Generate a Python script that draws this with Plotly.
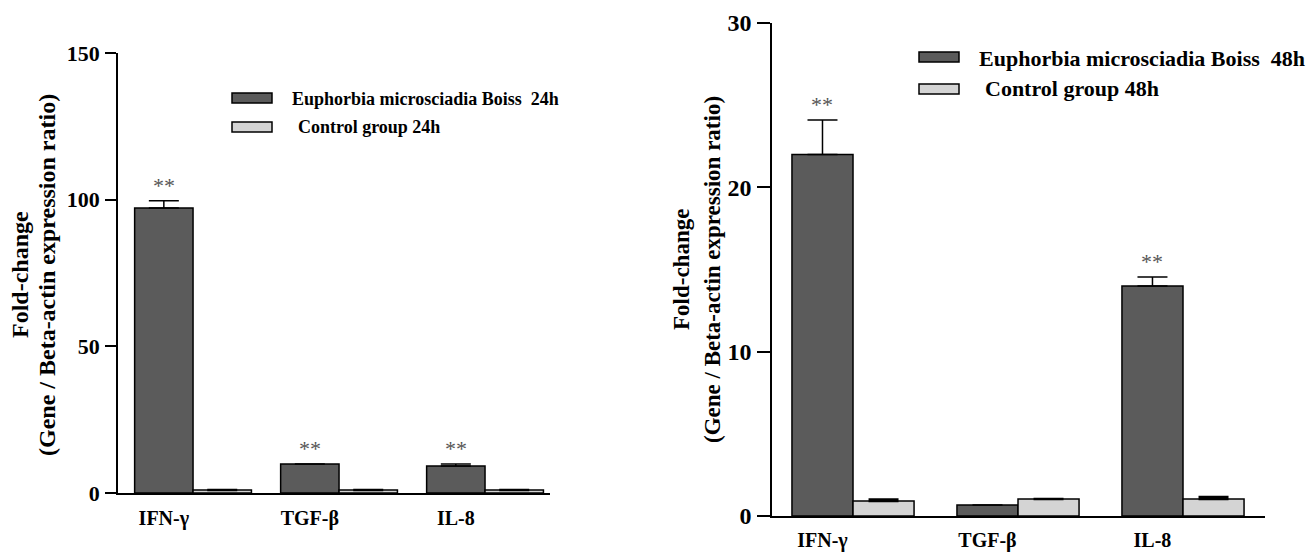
import math
import plotly.graph_objects as go

W, H = 1310, 552

# ---------------- data ----------------
genes = ["IFN-γ", "TGF-β", "IL-8"]

left_treat = [97.2, 9.9, 9.2]
left_treat_err = [2.4, 0.0, 0.7]
left_ctrl = [1.0, 1.0, 1.0]
left_ctrl_err = [0.0, 0.0, 0.0]
left_sig = ["**", "**", "**"]

right_treat = [22.0, 0.67, 14.0]
right_treat_err = [2.1, 0.0, 0.55]
right_ctrl = [0.91, 1.03, 1.03]
right_ctrl_err = [0.1, 0.0, 0.12]
right_sig = ["**", "", "**"]

left_yticks = [0, 50, 100, 150]
right_yticks = [0, 10, 20, 30]

left_legend = ["Euphorbia microsciadia Boiss  24h", "Control group 24h"]
right_legend = ["Euphorbia microsciadia Boiss  48h", "Control group 48h"]
ytitle_lines = ["Fold-change", "(Gene / Beta-actin expression ratio)"]

# ---------------- style ----------------
DARK = "#5b5b5b"
LIGHT = "#d4d4d4"
FONT = "Liberation Serif"


def px(x):
    return x / W


def py(y):
    return 1 - y / H


def nz(arr):
    return [v if v > 0 else float("nan") for v in arr]


fig = go.Figure()
xpos = list(range(len(genes)))

panels = [
    dict(xa="x", ya="y", treat=left_treat, terr=left_treat_err, ctrl=left_ctrl,
         cerr=left_ctrl_err, sig=left_sig, bw=0.4),
    dict(xa="x2", ya="y2", treat=right_treat, terr=right_treat_err, ctrl=right_ctrl,
         cerr=right_ctrl_err, sig=right_sig, bw=0.37),
]

for p in panels:
    bw = p["bw"]
    fig.add_trace(go.Bar(
        x=xpos, y=p["treat"], width=bw, offset=-bw, xaxis=p["xa"], yaxis=p["ya"],
        marker=dict(color=DARK, line=dict(color="black", width=1.5)),
        error_y=dict(type="data", symmetric=False, array=nz(p["terr"]),
                     arrayminus=[0] * 3, color="black", thickness=1.5, width=15),
        showlegend=False, hoverinfo="y"))
    fig.add_trace(go.Bar(
        x=xpos, y=p["ctrl"], width=bw, offset=0, xaxis=p["xa"], yaxis=p["ya"],
        marker=dict(color=LIGHT, line=dict(color="black", width=1.5)),
        error_y=dict(type="data", symmetric=False, array=nz(p["cerr"]),
                     arrayminus=[0] * 3, color="black", thickness=2.5, width=15),
        showlegend=False, hoverinfo="y"))
    for i, s in enumerate(p["sig"]):
        if s:
            fig.add_annotation(
                x=i - bw / 2, y=p["treat"][i] + p["terr"][i], xref=p["xa"], yref=p["ya"],
                text=s, showarrow=False, yanchor="bottom", yshift=1,
                font=dict(family=FONT, size=22, color="#555555"))

axis_common = dict(showline=True, linecolor="black", linewidth=1.5, showgrid=False,
                   zeroline=False, fixedrange=True, automargin=False)

fig.update_layout(
    width=W, height=H, margin=dict(l=0, r=0, t=0, b=0),
    paper_bgcolor="white", plot_bgcolor="white", barmode="overlay",
    xaxis=dict(domain=[px(118), px(550)], range=[-0.514, 2.445],
               tickvals=[i - 0.2 for i in xpos], ticktext=genes, ticks="",
               ticklabelstandoff=6,
               tickfont=dict(family=FONT, size=20, color="black", weight="bold"),
               anchor="y", **axis_common),
    yaxis=dict(domain=[py(493), py(53)], range=[0, 150], tickvals=left_yticks,
               ticks="outside", ticklen=11, tickwidth=1.5, tickcolor="black",
               ticklabelstandoff=1,
               tickfont=dict(family=FONT, size=22, color="black", weight="bold"),
               anchor="x", **axis_common),
    xaxis2=dict(domain=[px(772), px(1265)], range=[-0.491, 2.497],
                tickvals=[i - 0.185 for i in xpos], ticktext=genes, ticks="",
                ticklabelstandoff=5,
                tickfont=dict(family=FONT, size=20, color="black", weight="bold"),
                anchor="y2", **axis_common),
    yaxis2=dict(domain=[py(516), py(23)], range=[0, 30], tickvals=right_yticks,
                ticks="outside", ticklen=13, tickwidth=1.5, tickcolor="black",
                ticklabelstandoff=1,
                tickfont=dict(family=FONT, size=24, color="black", weight="bold"),
                anchor="x2", **axis_common),
)

# axis titles (two rotated lines each)
for (xs, yc, fs) in [((20, 47), 275, 24), ((681, 712), 270, 23)]:
    for xl, line in zip(xs, ytitle_lines):
        fig.add_annotation(x=px(xl), y=py(yc), xref="paper", yref="paper", text=line,
                           textangle=-90, showarrow=False, xanchor="center",
                           yanchor="middle",
                           font=dict(family=FONT, size=fs, color="black", weight="bold"))

# legends (swatch + text)
legends = [
    (left_legend, [(232, 272, 93, 103), (232, 272, 122, 132)], [(290, 99), (296, 127)], 18),
    (right_legend, [(919, 959, 52, 62), (919, 959, 84, 94)], [(977, 58), (983, 89)], 22),
]
for labels, boxes, txt, fs in legends:
    for k, (lab, (x0, x1, y0, y1), (tx, ty)) in enumerate(zip(labels, boxes, txt)):
        fig.add_shape(type="rect", xref="paper", yref="paper",
                      x0=px(x0), x1=px(x1), y0=py(y1), y1=py(y0),
                      fillcolor=DARK if k == 0 else LIGHT,
                      line=dict(color="black", width=1.5))
        fig.add_annotation(x=px(tx), y=py(ty), xref="paper", yref="paper", text=lab,
                           showarrow=False, xanchor="left", yanchor="middle",
                           font=dict(family=FONT, size=fs, color="black", weight="bold"))

fig.write_html(
    "out.html",
    config={"displayModeBar": False},
    post_script="document.body.style.margin='0';document.body.style.padding='0';"
                "document.body.style.overflow='hidden';",
)
